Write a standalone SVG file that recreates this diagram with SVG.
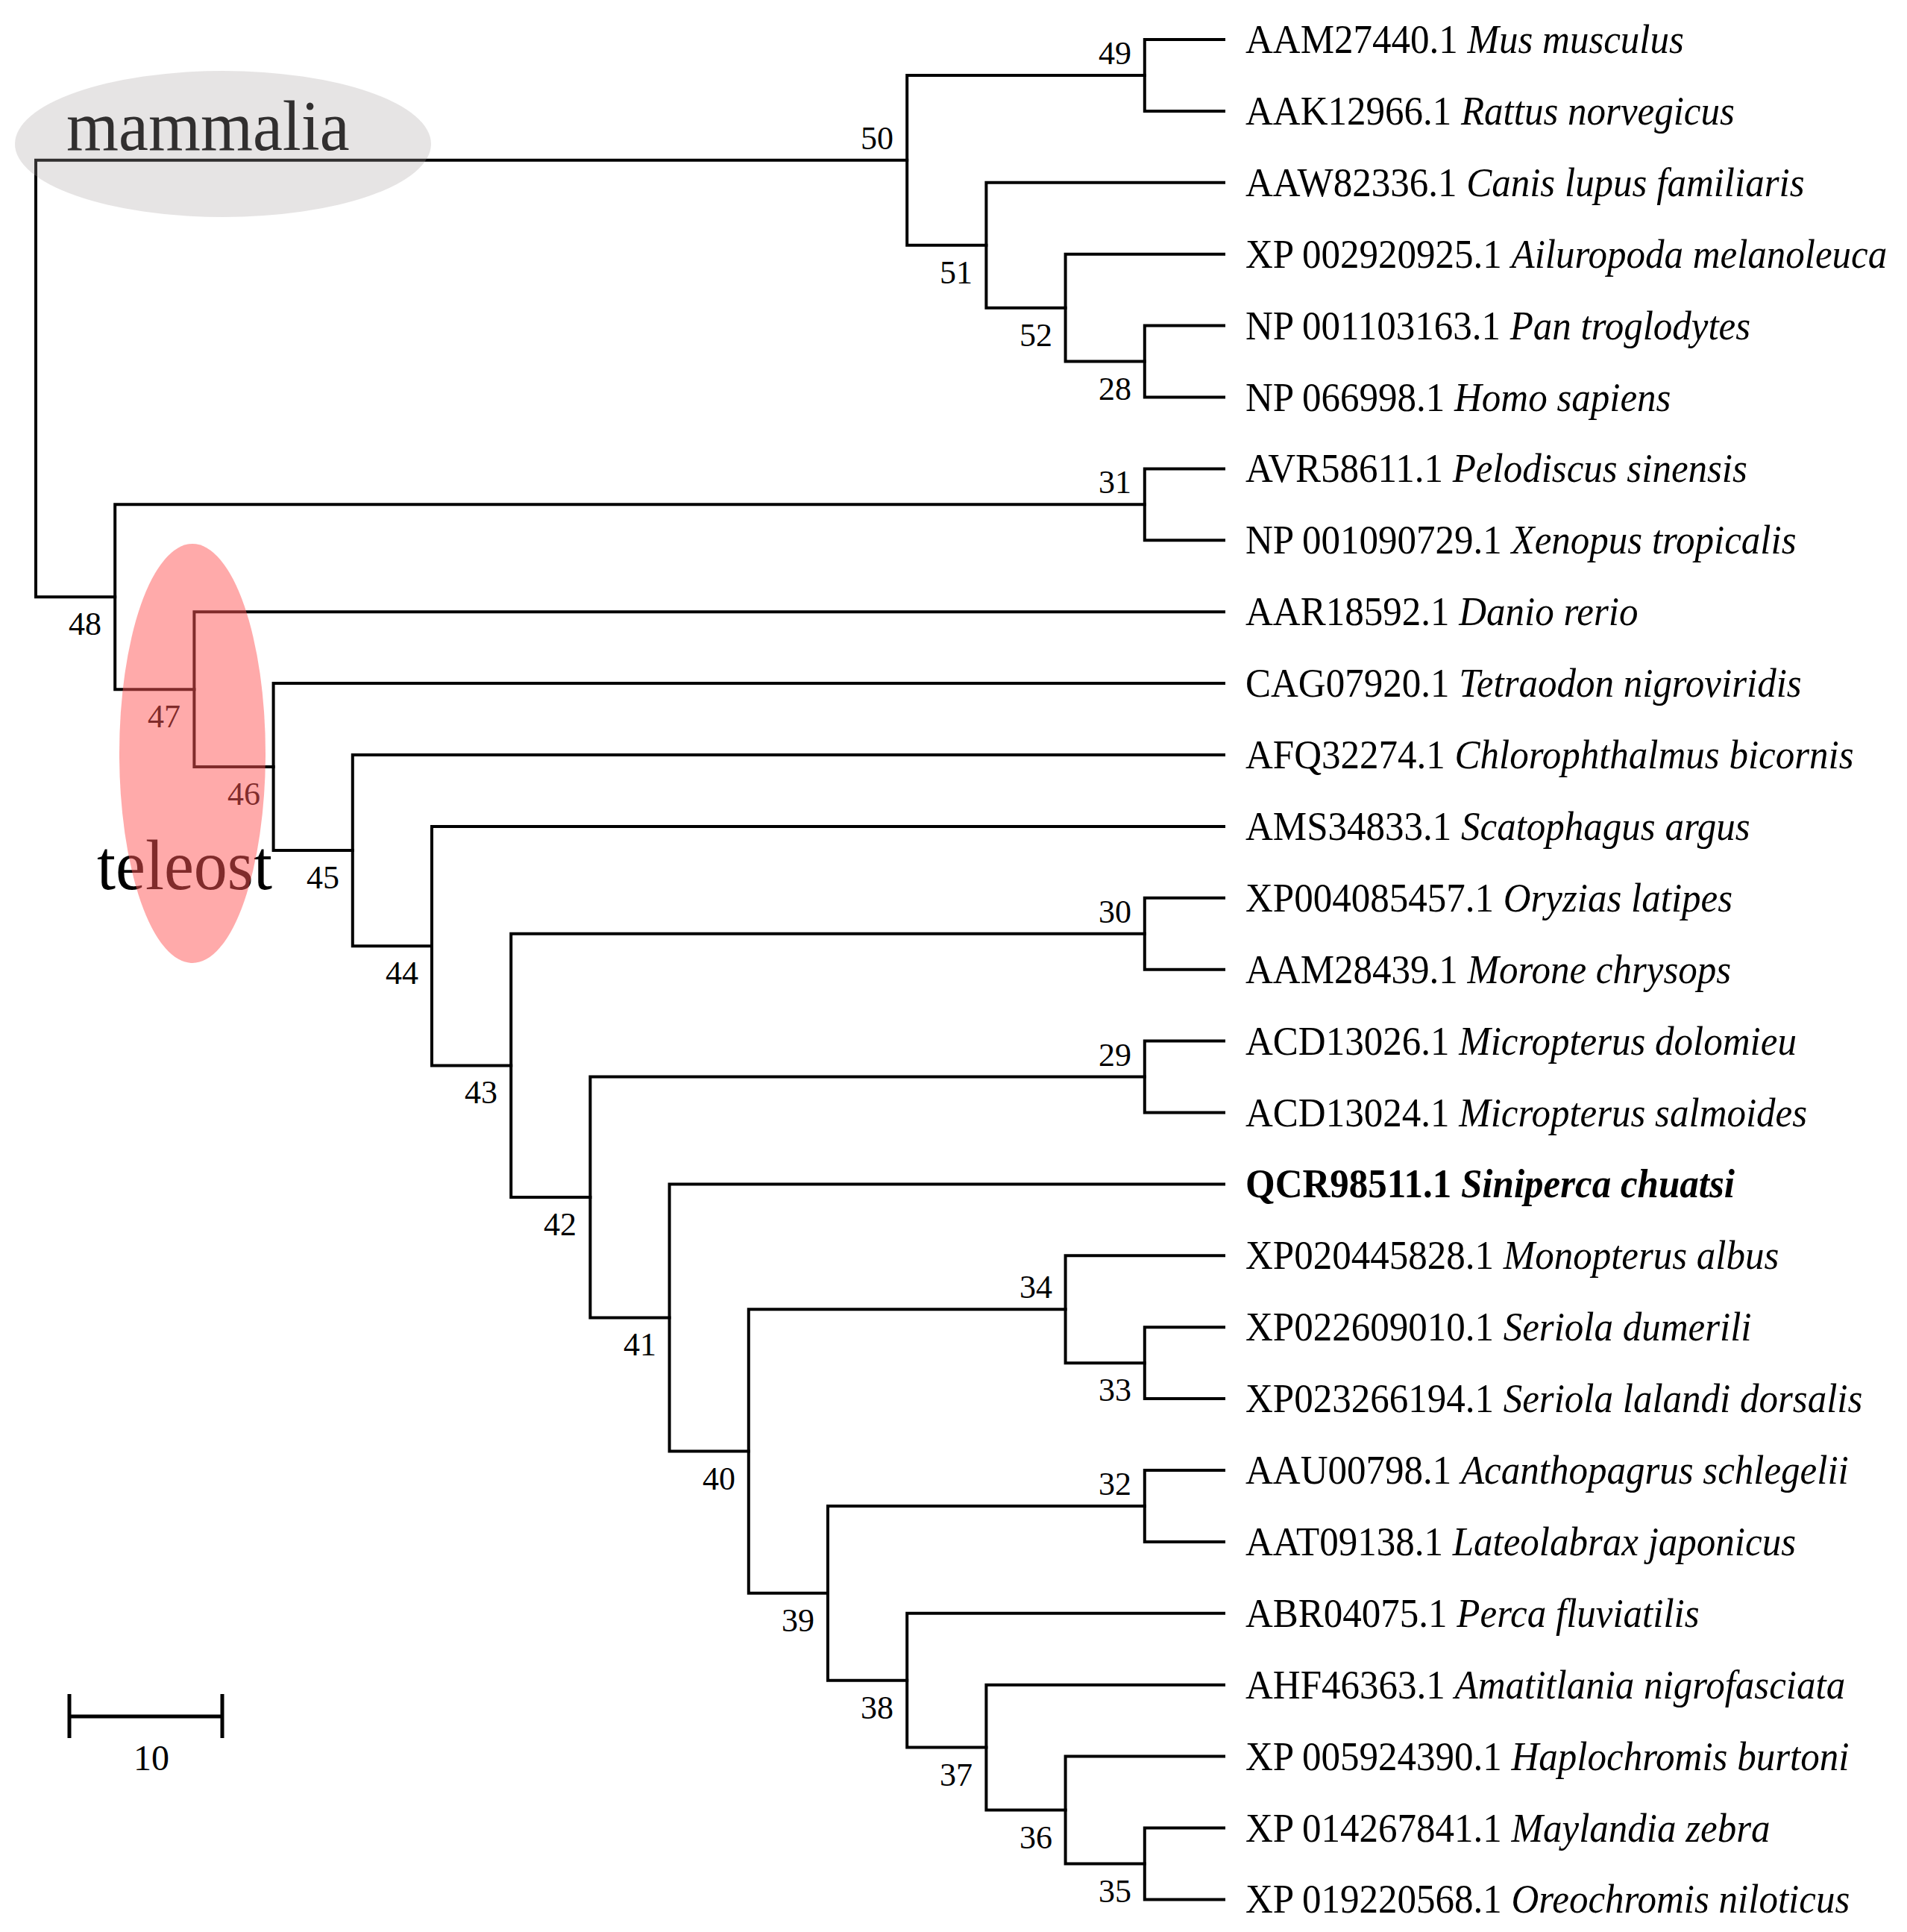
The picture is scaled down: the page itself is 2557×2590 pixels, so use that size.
<svg xmlns="http://www.w3.org/2000/svg" width="2557" height="2590" viewBox="0 0 2557 2590">
<style>
.br{fill:none;stroke:#000;stroke-width:4;stroke-linecap:square}
.lf{font-family:"Liberation Serif","Times New Roman",serif;font-size:51px;fill:#000}
.sp{font-style:italic}
.nl{font-family:"Liberation Serif","Times New Roman",serif;font-size:44px;fill:#000;text-anchor:end}
.big{font-family:"Liberation Serif","Times New Roman",serif;font-size:90px;fill:#000}
</style>
<rect width="2557" height="2590" fill="#fff"/>
<g id="connectors" class="br">
<path d="M1216.2 214.83H48V800.25H154.2"/>
<path d="M1534.8 100.95H1216.2V328.71H1322.4"/>
<path d="M1641 53H1534.8V148.9H1641"/>
<path d="M1641 244.8H1322.4V412.63H1428.6"/>
<path d="M1641 340.7H1428.6V484.55H1534.8"/>
<path d="M1641 436.6H1534.8V532.5H1641"/>
<path d="M1534.8 676.35H154.2V924.15H260.4"/>
<path d="M1641 628.4H1534.8V724.3H1641"/>
<path d="M1641 820.2H260.4V1028.09H366.6"/>
<path d="M1641 916.1H366.6V1140.07H472.8"/>
<path d="M1641 1012H472.8V1268.14H579"/>
<path d="M1641 1107.9H579V1428.38H685.2"/>
<path d="M1534.8 1251.75H685.2V1605.01H791.4"/>
<path d="M1641 1203.8H1534.8V1299.7H1641"/>
<path d="M1534.8 1443.55H791.4V1766.47H897.6"/>
<path d="M1641 1395.6H1534.8V1491.5H1641"/>
<path d="M1641 1587.4H897.6V1945.53H1003.8"/>
<path d="M1428.6 1755.23H1003.8V2135.83H1110"/>
<path d="M1641 1683.3H1428.6V1827.15H1534.8"/>
<path d="M1641 1779.2H1534.8V1875.1H1641"/>
<path d="M1534.8 2018.95H1110V2252.71H1216.2"/>
<path d="M1641 1971H1534.8V2066.9H1641"/>
<path d="M1641 2162.8H1216.2V2342.61H1322.4"/>
<path d="M1641 2258.7H1322.4V2426.53H1428.6"/>
<path d="M1641 2354.6H1428.6V2498.45H1534.8"/>
<path d="M1641 2450.5H1534.8V2546.4H1641"/>
</g>
<g id="leaves" class="lf">
<g id="leaf-AAM27440"><text transform="translate(1670 71) scale(1 1.06)">AAM27440.1 <tspan class="sp">Mus musculus</tspan></text></g>
<g id="leaf-AAK12966"><text transform="translate(1670 166.9) scale(1 1.06)">AAK12966.1 <tspan class="sp">Rattus norvegicus</tspan></text></g>
<g id="leaf-AAW82336"><text transform="translate(1670 262.8) scale(1 1.06)">AAW82336.1 <tspan class="sp">Canis lupus familiaris</tspan></text></g>
<g id="leaf-XP002920925"><text transform="translate(1670 358.7) scale(1 1.06)">XP 002920925.1 <tspan class="sp">Ailuropoda melanoleuca</tspan></text></g>
<g id="leaf-NP001103163"><text transform="translate(1670 454.6) scale(1 1.06)">NP 001103163.1 <tspan class="sp">Pan troglodytes</tspan></text></g>
<g id="leaf-NP066998"><text transform="translate(1670 550.5) scale(1 1.06)">NP 066998.1 <tspan class="sp">Homo sapiens</tspan></text></g>
<g id="leaf-AVR58611"><text transform="translate(1670 646.4) scale(1 1.06)">AVR58611.1 <tspan class="sp">Pelodiscus sinensis</tspan></text></g>
<g id="leaf-NP001090729"><text transform="translate(1670 742.3) scale(1 1.06)">NP 001090729.1 <tspan class="sp">Xenopus tropicalis</tspan></text></g>
<g id="leaf-AAR18592"><text transform="translate(1670 838.2) scale(1 1.06)">AAR18592.1 <tspan class="sp">Danio rerio</tspan></text></g>
<g id="leaf-CAG07920"><text transform="translate(1670 934.1) scale(1 1.06)">CAG07920.1 <tspan class="sp">Tetraodon nigroviridis</tspan></text></g>
<g id="leaf-AFQ32274"><text transform="translate(1670 1030) scale(1 1.06)">AFQ32274.1 <tspan class="sp">Chlorophthalmus bicornis</tspan></text></g>
<g id="leaf-AMS34833"><text transform="translate(1670 1125.9) scale(1 1.06)">AMS34833.1 <tspan class="sp">Scatophagus argus</tspan></text></g>
<g id="leaf-XP004085457"><text transform="translate(1670 1221.8) scale(1 1.06)">XP004085457.1 <tspan class="sp">Oryzias latipes</tspan></text></g>
<g id="leaf-AAM28439"><text transform="translate(1670 1317.7) scale(1 1.06)">AAM28439.1 <tspan class="sp">Morone chrysops</tspan></text></g>
<g id="leaf-ACD13026"><text transform="translate(1670 1413.6) scale(1 1.06)">ACD13026.1 <tspan class="sp">Micropterus dolomieu</tspan></text></g>
<g id="leaf-ACD13024"><text transform="translate(1670 1509.5) scale(1 1.06)">ACD13024.1 <tspan class="sp">Micropterus salmoides</tspan></text></g>
<g id="leaf-QCR98511"><text transform="translate(1670 1605.4) scale(1 1.06)" font-weight="bold">QCR98511.1 <tspan class="sp">Siniperca chuatsi</tspan></text></g>
<g id="leaf-XP020445828"><text transform="translate(1670 1701.3) scale(1 1.06)">XP020445828.1 <tspan class="sp">Monopterus albus</tspan></text></g>
<g id="leaf-XP022609010"><text transform="translate(1670 1797.2) scale(1 1.06)">XP022609010.1 <tspan class="sp">Seriola dumerili</tspan></text></g>
<g id="leaf-XP023266194"><text transform="translate(1670 1893.1) scale(1 1.06)">XP023266194.1 <tspan class="sp">Seriola lalandi dorsalis</tspan></text></g>
<g id="leaf-AAU00798"><text transform="translate(1670 1989) scale(1 1.06)">AAU00798.1 <tspan class="sp">Acanthopagrus schlegelii</tspan></text></g>
<g id="leaf-AAT09138"><text transform="translate(1670 2084.9) scale(1 1.06)">AAT09138.1 <tspan class="sp">Lateolabrax japonicus</tspan></text></g>
<g id="leaf-ABR04075"><text transform="translate(1670 2180.8) scale(1 1.06)">ABR04075.1 <tspan class="sp">Perca fluviatilis</tspan></text></g>
<g id="leaf-AHF46363"><text transform="translate(1670 2276.7) scale(1 1.06)">AHF46363.1 <tspan class="sp">Amatitlania nigrofasciata</tspan></text></g>
<g id="leaf-XP005924390"><text transform="translate(1670 2372.6) scale(1 1.06)">XP 005924390.1 <tspan class="sp">Haplochromis burtoni</tspan></text></g>
<g id="leaf-XP014267841"><text transform="translate(1670 2468.5) scale(1 1.06)">XP 014267841.1 <tspan class="sp">Maylandia zebra</tspan></text></g>
<g id="leaf-XP019220568"><text transform="translate(1670 2564.4) scale(1 1.06)">XP 019220568.1 <tspan class="sp">Oreochromis niloticus</tspan></text></g>
</g>
<g id="node-labels" class="nl">
<g id="n50"><text x="1198" y="200">50</text></g>
<g id="n49"><text x="1517" y="86">49</text></g>
<g id="n51"><text x="1304" y="380">51</text></g>
<g id="n52"><text x="1411" y="464">52</text></g>
<g id="n28"><text x="1517" y="536">28</text></g>
<g id="n31"><text x="1517" y="661">31</text></g>
<g id="n48"><text x="136" y="851">48</text></g>
<g id="n47"><text x="242" y="975">47</text></g>
<g id="n46"><text x="349" y="1079">46</text></g>
<g id="n45"><text x="455" y="1191">45</text></g>
<g id="n44"><text x="561" y="1319">44</text></g>
<g id="n43"><text x="667" y="1479">43</text></g>
<g id="n30"><text x="1517" y="1237">30</text></g>
<g id="n42"><text x="773" y="1656">42</text></g>
<g id="n29"><text x="1517" y="1429">29</text></g>
<g id="n41"><text x="880" y="1817">41</text></g>
<g id="n40"><text x="986" y="1997">40</text></g>
<g id="n34"><text x="1411" y="1740">34</text></g>
<g id="n33"><text x="1517" y="1878">33</text></g>
<g id="n39"><text x="1092" y="2187">39</text></g>
<g id="n32"><text x="1517" y="2004">32</text></g>
<g id="n38"><text x="1198" y="2304">38</text></g>
<g id="n37"><text x="1304" y="2394">37</text></g>
<g id="n36"><text x="1411" y="2478">36</text></g>
<g id="n35"><text x="1517" y="2550">35</text></g>
</g>
<g id="clade-mammalia">
<text class="big" transform="translate(89 201) scale(1 1.06)">mammalia</text>
<ellipse cx="299" cy="193" rx="279" ry="98" fill="rgb(169,162,162)" fill-opacity="0.29"/>
</g>
<g id="clade-teleost">
<text class="big" transform="translate(130 1192) scale(1 1.06)">teleost</text>
<ellipse cx="258" cy="1010" rx="98" ry="281" fill="#ff5555" fill-opacity="0.5"/>
</g>
<g id="scale-bar">
<path d="M93 2301H298M93 2271V2330M298 2271V2330" fill="none" stroke="#000" stroke-width="5"/>
<text x="203" y="2373" text-anchor="middle" font-family="Liberation Serif, Times New Roman, serif" font-size="48">10</text>
</g>
</svg>
